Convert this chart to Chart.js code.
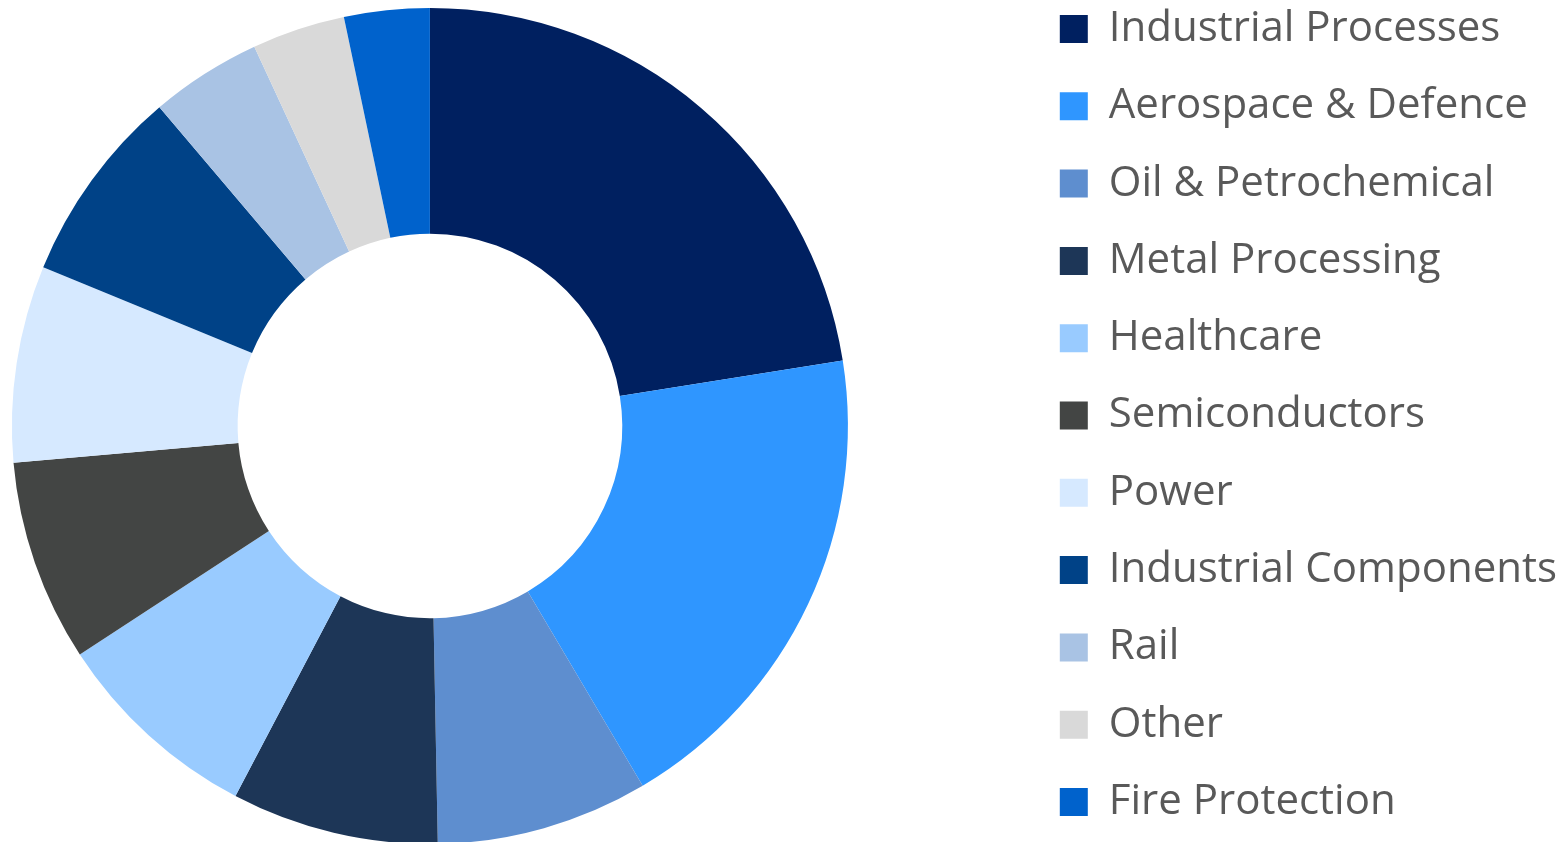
<!DOCTYPE html>
<html>
<head>
<meta charset="utf-8">
<style>
  html, body { margin: 0; padding: 0; background: #ffffff; overflow: hidden; }
  #wrap { position: relative; width: 1567px; height: 842px; }
</style>
<script src="https://cdn.jsdelivr.net/npm/chart.js@4.4.1/dist/chart.umd.min.js"></script>
</head>
<body>
<div id="wrap"><canvas id="chart"></canvas></div>
<script>
// Sector split (share of total, %)
const sectors = [
  'Industrial Processes',
  'Aerospace & Defence',
  'Oil & Petrochemical',
  'Metal Processing',
  'Healthcare',
  'Semiconductors',
  'Power',
  'Industrial Components',
  'Rail',
  'Other',
  'Fire Protection'
];
const shares = [22.5, 19.0, 8.2, 8.0, 8.1, 7.8, 7.6, 7.6, 4.3, 3.6, 3.3];
const sectorColors = [
  '#002060', '#2F96FF', '#5E8ECF', '#1D3657', '#99CBFF', '#434544',
  '#D6E9FF', '#004287', '#A9C3E4', '#D9D9D9', '#0062CC'
];

// Empty layout boxes: push the ring down and keep a gap before the legend
const ringGaps = {
  id: 'ringGaps',
  beforeInit(chart) {
    const gap = (position, w, h) => ({
      position, weight: 0, fullSize: false,
      options: {},
      width: w, height: h, left: 0, top: 0, right: 0, bottom: 0,
      isHorizontal() { return position === 'top' || position === 'bottom'; },
      update(maxWidth, maxHeight) {
        if (this.isHorizontal()) { this.width = maxWidth; this.height = h; }
        else { this.width = w; this.height = maxHeight; }
      },
      draw() {}
    });
    Chart.layouts.addBox(chart, gap('top', 0, 38));
    Chart.layouts.addBox(chart, gap('right', 164.7, 0));
  }
};

new Chart(document.getElementById('chart'), {
  type: 'doughnut',
  data: {
    labels: sectors,
    datasets: [{
      data: shares,
      backgroundColor: sectorColors,
      borderWidth: 0,
      radius: 418,
      cutout: '46%',
      clip: false
    }]
  },
  options: {
    responsive: true,
    maintainAspectRatio: false,
    animation: false,
    layout: { padding: { top: -28, bottom: -17, left: 0, right: 0 } },
    plugins: {
      tooltip: { enabled: false },
      legend: {
        position: 'right',
        align: 'center',
        maxWidth: 800,
        labels: {
          boxWidth: 28,
          boxHeight: 28,
          padding: 35.3,
          color: '#595959',
          font: { family: "'Open Sans', 'Noto Sans', sans-serif", size: 42 }
        }
      }
    }
  },
  plugins: [ringGaps]
});
</script>
</body>
</html>
